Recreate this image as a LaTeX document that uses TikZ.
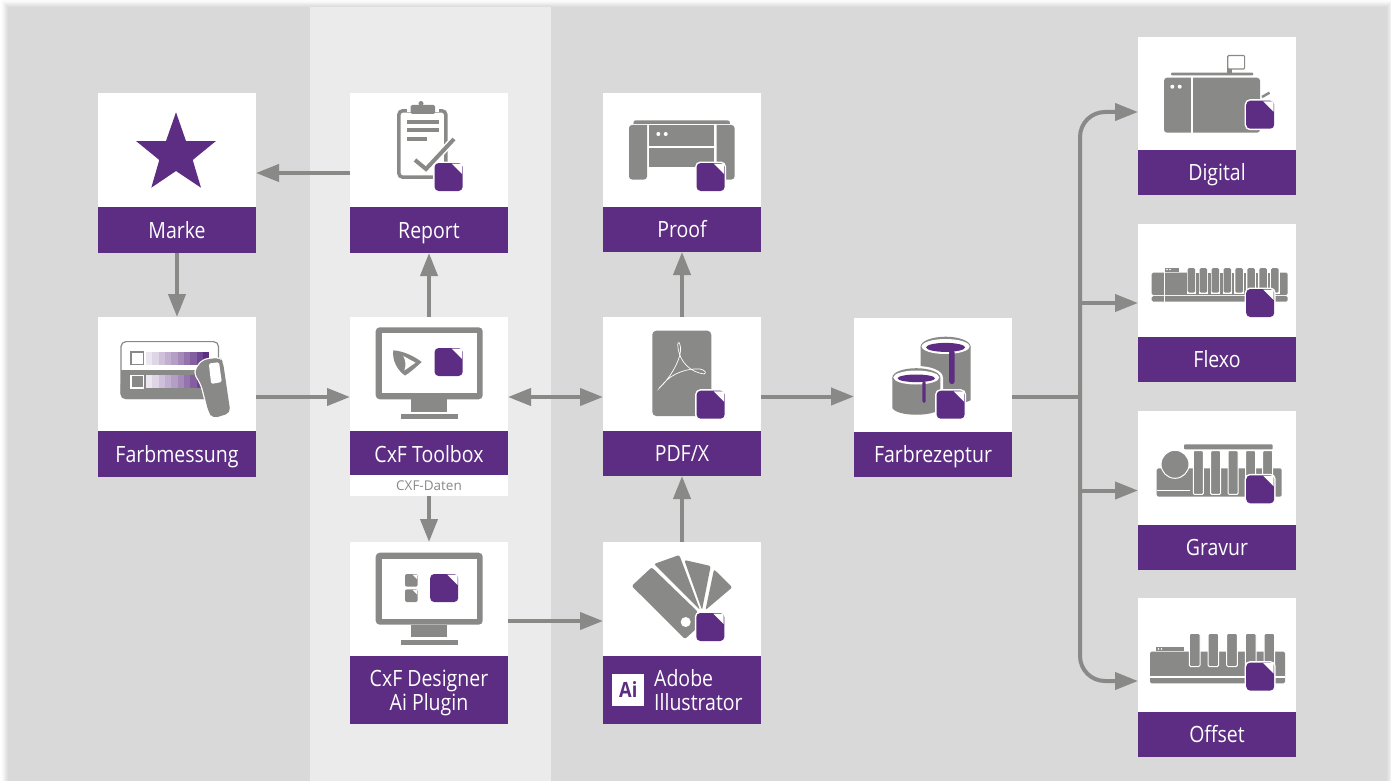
\documentclass[tikz,border=0pt]{standalone}
\usepackage{fontspec}
\usetikzlibrary{arrows.meta}
\setmainfont[FakeStretch=0.87]{Open Sans}
\newfontfamily\cxffont{Open Sans}
\definecolor{pur}{HTML}{5C2D82}
\definecolor{gr}{HTML}{898988}
\definecolor{bgd}{HTML}{D9D9D9}
\definecolor{bgl}{HTML}{EBEBEB}
\tikzset{
  card/.style={fill=white,draw=none,inner sep=0pt,outer sep=0pt,minimum width=158pt},
  bar/.style={fill=pur,text=white,inner sep=0pt,outer sep=0pt,minimum width=158pt,anchor=south,
    font=\fontsize{22.4pt}{24pt}\selectfont,text height=16pt,text depth=0pt},
  twoline/.style={text height=40pt,text depth=0pt,align=center},
  conn/.style={draw=gr,line width=4pt,-{Triangle[length=23pt,width=17pt]}},
  connb/.style={draw=gr,line width=4pt,{Triangle[length=23pt,width=17pt]}-{Triangle[length=23pt,width=17pt]}},
  badge/.pic={
    \fill[pur,rounded corners=4pt,draw=white,line width=3pt] (0,0) rectangle (28,28);
    \fill[pur,rounded corners=4pt] (0,0) rectangle (28,28);
    \fill[white] (17,0.6) -- (27.4,0.6) -- (27.4,11) -- cycle;
  },
  minibadge/.pic={
    \fill[gr,rounded corners=2pt] (0,0) rectangle (12.7,12.7);
    \fill[white] (7.5,0.5) -- (12.2,0.5) -- (12.2,5.2) -- cycle;
  },
  monitor/.pic={
    \fill[gr,rounded corners=4pt] (0,0) rectangle (107,72);
    \fill[white] (6,6) rectangle (101,66);
    \fill[gr] (35.3,72) rectangle (71.6,84.4);
    \fill[gr] (25.3,87) rectangle (82,92);
  }
}
\begin{document}
\begin{tikzpicture}[x=1pt,y=-1pt]
\useasboundingbox (0,0) rectangle (1391,781);
% background
\fill[white] (0,0) rectangle (1391,781);
\foreach \i/\c in {7/1,6/2,5/4,4/6,3/9,2/11,1/13}{
  \fill[black!\c!white] ({8-\i},{7-\i}) rectangle ({1387+\i},781);
}
\fill[bgd] (8,7) rectangle (1387,781);
\fill[bgl] (310,7) rectangle (551,781);

% cards
\node[card,minimum height=160pt] (marke) at (177,173) {};
\node[bar,minimum height=46pt] (markeL) at (marke.south) {Marke};
\node[card,minimum height=160pt] (report) at (429,173) {};
\node[bar,minimum height=46pt] (reportL) at (report.south) {Report};
\node[card,minimum height=159pt] (proof) at (682,172.5) {};
\node[bar,minimum height=45pt] (proofL) at (proof.south) {Proof};
\node[card,minimum height=160pt] (farb) at (177,397) {};
\node[bar,minimum height=46pt] (farbL) at (farb.south) {Farbmessung};
\node[card,minimum height=160pt] (tool) at (429,397) {};
\node[bar,minimum height=46pt] (toolL) at (tool.south) {CxF Toolbox};
\node[card,minimum height=21pt,text=gr,font=\cxffont\fontsize{13.5pt}{14pt}\selectfont] (cxf) at (429,485.5) {CXF-Daten};
\node[card,minimum height=159pt] (pdf) at (682,396.5) {};
\node[bar,minimum height=45pt] (pdfL) at (pdf.south) {PDF/X};
\node[card,minimum height=159pt] (rez) at (933,397.5) {};
\node[bar,minimum height=45pt] (rezL) at (rez.south) {Farbrezeptur};
\node[card,minimum height=182pt] (des) at (429,633) {};
\node[bar,minimum height=68pt,twoline] (desL) at (des.south) {CxF Designer\\Ai Plugin};
\node[card,minimum height=182pt] (ado) at (682,633) {};
\node[bar,minimum height=68pt] (adoL) at (ado.south) {};
\node[inner sep=0pt,anchor=base west,text=white,font=\fontsize{22.4pt}{25pt}\selectfont] (adoT1) at (654,686) {Adobe};
\node[inner sep=0pt,anchor=base west,text=white,font=\fontsize{22.4pt}{25pt}\selectfont] (adoT2) at (654,710.7) {Illustrator};
\node[fill=white,inner sep=0pt,outer sep=0pt,minimum width=32pt,minimum height=32pt,text=pur,font=\bfseries\fontsize{21pt}{22pt}\selectfont] (aibox) at (628.3,689.7) {Ai};
\node[card,minimum height=158pt] (dig) at (1217,116) {};
\node[bar,minimum height=45pt] (digL) at (dig.south) {Digital};
\node[card,minimum height=158pt] (fle) at (1217,303) {};
\node[bar,minimum height=45pt] (fleL) at (fle.south) {Flexo};
\node[card,minimum height=159pt] (gra) at (1217,490.5) {};
\node[bar,minimum height=45pt] (graL) at (gra.south) {Gravur};
\node[card,minimum height=159pt] (off) at (1217,677.5) {};
\node[bar,minimum height=45pt] (offL) at (off.south) {Offset};

% connectors
\coordinate (bus) at (1080,397);
\draw[conn] (report.west) -- (marke.east);
\draw[conn] (marke.south) -- (farb.north);
\draw[conn] (farb.east) -- (tool.west);
\draw[conn] (tool.north) -- (report.south);
\draw[connb] (tool.east) -- (tool.east -| pdf.west);
\draw[conn] (pdf.north) -- (proof.south);
\draw[conn] (pdf.east) -- (pdf.east -| rez.west);
\draw[conn] (cxf.south) -- (des.north);
\draw[conn] (ado.north) -- (pdf.south);
\draw[conn] ([yshift=12pt]des.east) -- ([yshift=12pt]ado.west);
\draw[gr,line width=4pt] (rez.east |- bus) -- (bus);
\draw[conn,rounded corners=25pt] (bus) |- ([yshift=4pt]dig.west);
\draw[conn] (bus |- fle.west) -- (fle.west);
\draw[conn] (bus |- gra.west) -- (gra.west);
\draw[conn,rounded corners=25pt] (bus) |- ([yshift=-3.5pt]off.west);

% star
\fill[pur] (176,112.3) -- (186,141) -- (216,141) -- (192.7,160) -- (201,187.7) -- (176,171) -- (151.3,187.7) -- (159.3,160) -- (136,141) -- (166,141) -- cycle;

% clipboard
\draw[gr,line width=3.5pt,rounded corners=4pt] (445.9,165) -- (445.9,110.8) -- (398.8,110.8) -- (398.8,177.2) -- (445.9,177.2);
\fill[white] (407,106) rectangle (439,112);
\fill[gr,rounded corners=1.5pt] (410.7,105) rectangle (435,114);
\fill[gr] (421,103.5) circle (2.5pt);
\fill[gr] (407,120) rectangle (439,124);
\fill[gr] (407,128) rectangle (439,132);
\fill[gr] (407,137) rectangle (427,141);
\draw[white,line width=7pt] (415,160) -- (426,169) -- (454,139);
\draw[gr,line width=4pt] (415,160) -- (426,169) -- (454,139);
\pic at (434.6,163) {badge};

% printer
\fill[gr] (633.3,124) .. controls (633.3,121) and (634,120.3) .. (636,120.3) -- (727,120.3) .. controls (729.5,120.3) and (730,121) .. (730,124) -- cycle;
\fill[gr,rounded corners=3pt] (647,125) -- (629,125) -- (629,179.5) -- (647,179.5) [sharp corners] -- cycle;
\fill[gr,rounded corners=3pt] (716.7,125) -- (734.5,125) -- (734.5,179.5) -- (716.7,179.5) [sharp corners] -- cycle;
\fill[gr] (649,125) rectangle (714.3,145.7);
\fill[gr] (649,148.3) rectangle (714.3,166.7);
\fill[white] (658.3,134) circle (2pt);
\fill[white] (665.7,134) circle (2pt);
\pic at (696.6,163) {badge};

% colour measurement
\draw[gr,line width=1.2pt,fill=white,rounded corners=5pt] (121,341.6) rectangle (218.5,398.6);
\fill[gr,rounded corners=5pt] (120.5,380) rectangle (219,399);
\fill[gr] (120.5,370) rectangle (219,390);
\draw[gr,line width=1.2pt,fill=white] (131,352) rectangle (143.2,364.8);
\draw[white,line width=1.2pt,fill=gr] (131,375.6) rectangle (143.2,388);
\foreach \i/\c in {0/12,1/20,2/30,3/38,4/46,5/56,6/66,7/76,8/88,9/100}{
  \fill[pur!\c!white] ({146+6.33*\i},351.7) rectangle ({146+6.33*(\i+1)},365);
  \fill[pur!\c!white] ({146+6.33*\i},375) rectangle ({146+6.33*(\i+1)},388.3);
}
\draw[white,line width=2.5pt,fill=gr,rounded corners=5pt] (202.7,360) -- (220,357.5) -- (223,362) -- (230.5,413) -- (212.7,418.5) -- (208.5,412) -- (201.7,385) -- (194,371.7) -- cycle;
\fill[gr,rounded corners=5pt] (202.7,360) -- (220,357.5) -- (223,362) -- (230.5,413) -- (212.7,418.5) -- (208.5,412) -- (201.7,385) -- (194,371.7) -- cycle;
\fill[white,rounded corners=1.5pt] (208.8,363.5) -- (219,362.2) -- (221.8,382) -- (211.2,384) -- cycle;

% toolbox monitor
\pic at (375.7,327.3) {monitor};
\fill[gr] (393.3,350.3) .. controls (403,351) and (414,356) .. (421.7,362) .. controls (416,367) and (411,372) .. (405,375.5) .. controls (397,370) and (392,360) .. (393.3,350.3) -- cycle;
\fill[white] (403.3,356) -- (415.5,362.7) -- (404.3,370.5) .. controls (406,366) and (406,361) .. (403.3,356) -- cycle;
\pic at (434.6,348) {badge};

% pdf
\fill[gr,rounded corners=4pt] (652.3,330.7) rectangle (711.3,416);
\draw[white,line width=0.7pt] (660,387) .. controls (666,383) and (684,358) .. (680,345) .. controls (679,340) and (677,343) .. (678,348) .. controls (680,362) and (690,372) .. (704,374) .. controls (707,373) and (705,370) .. (700,369) .. controls (688,368) and (672,373) .. (663,384) .. controls (658,390) and (659,388) .. (660,387);
\pic at (696.6,390.7) {badge};

% cans
\fill[gr] (920.5,346.7) -- (920.5,400) .. controls (925,405) and (966,405) .. (970.7,400) -- (970.7,346.7) -- cycle;
\fill[gr] (945.6,346.7) ellipse (25pt and 10pt);
\fill[white] (945.6,346.5) ellipse (24pt and 7.5pt);
\fill[pur] (945.6,347.4) ellipse (19.5pt and 4.5pt);
\fill[pur,rounded corners=2.4pt] (949.2,350) rectangle (954.6,384);
\fill[white] (890,378) -- (890,414) .. controls (895,419) and (940,419) .. (943,414) -- (943,378) .. controls (943,362) and (890,362) .. (890,378) -- cycle;
\fill[gr] (892.3,377.5) -- (892.3,408) .. controls (897,417) and (936,417) .. (940.3,408) -- (940.3,377.5) -- cycle;
\fill[gr] (916.3,377.5) ellipse (24pt and 9.3pt);
\fill[white] (916.3,377.5) ellipse (23pt and 7pt);
\fill[pur] (916.3,378.3) ellipse (18.7pt and 3.8pt);
\fill[pur,rounded corners=1.7pt] (922.3,381) rectangle (925.7,403);
\pic at (936.6,390.7) {badge};

% designer monitor
\pic at (375.7,552.7) {monitor};
\pic at (405,574) {minibadge};
\pic at (405,589.3) {minibadge};
\pic at (430.2,574) {badge};

% fan
\fill[gr,rounded corners=2pt] (651.7,567.3) -- (631.7,586) -- (685,639) -- (696,629) -- (698,612) -- cycle;
\fill[white] (685.7,622) circle (5pt);
\fill[gr,rounded corners=2pt] (654,564) -- (679.3,555) -- (700,610) -- cycle;
\fill[gr,rounded corners=2pt] (684.3,560) -- (710.7,566) -- (702,610) -- cycle;
\fill[gr,rounded corners=2pt] (714,569.3) -- (732.3,587.3) -- (705.5,610) -- cycle;
\pic at (696.3,613) {badge};

% digital press
\fill[gr,rounded corners=1pt] (1171,72.7) rectangle (1253.3,75.3);
\fill[gr] (1227.3,68) rectangle (1232,72.7);
\draw[gr,line width=1.2pt,fill=white,rounded corners=1pt] (1227.8,55.5) rectangle (1244.6,69);
\fill[gr,rounded corners=3pt] (1164,77.7) rectangle (1260,132.7);
\fill[white] (1191,77) rectangle (1192.7,133);
\fill[white] (1172.3,86.7) circle (2pt);
\fill[white] (1179.7,86.7) circle (2pt);
\draw[gr,line width=2.5pt] (1262,97) -- (1269.5,92.7);
\pic at (1246.2,100.7) {badge};

% flexo press
\fill[gr,rounded corners=1.5pt] (1151.7,272.7) rectangle (1287.7,295);
\fill[gr,rounded corners=1.5pt] (1151.7,296.2) rectangle (1287.7,301.7);
\fill[white] (1164,272) rectangle (1164.8,302);
\fill[gr] (1165,268) rectangle (1179.3,272);
\fill[white] (1167,269.5) circle (0.8pt) (1170,269.5) circle (0.8pt);
\fill[white] (1187,270) rectangle (1280,273);
\foreach \i in {0,...,7}{
  \fill[white] ({1186.7+11.93*\i},267) rectangle ({1196.2+11.93*\i},294);
  \fill[gr,rounded corners=1.5pt] ({1187.7+11.93*\i},268) rectangle ({1195.2+11.93*\i},292.7);
}
\pic at (1246.2,289) {badge};

% gravure press
\fill[gr,rounded corners=1pt] (1184,444.3) rectangle (1272.7,449.3);
\fill[gr,rounded corners=1.5pt] (1156.7,468.3) rectangle (1281.7,496.7);
\fill[white] (1156.7,490) rectangle (1190,491);
\draw[white,line width=1pt,fill=gr] (1175,464.3) circle (14pt);
\foreach \xx in {1193.3,1210.6,1228,1245.5,1262.7}{
  \draw[white,line width=1pt,fill=gr,rounded corners=1pt] (\xx,450.7) rectangle ({\xx+10},494.3);
}
\fill[white] (1190,449.8) rectangle (1275,450.7);
\pic at (1246.2,475.3) {badge};

% offset press
\fill[gr,rounded corners=1.5pt] (1150,651.7) rectangle (1285,683.3);
\fill[white] (1150,676.4) rectangle (1285,677.6);
\fill[gr] (1156,647) rectangle (1184.3,651.3);
\fill[white] (1158.5,649) circle (0.8pt) (1161.5,649) circle (0.8pt);
\foreach \xx in {1189.3,1208,1226.7,1245.3,1264}{
  \draw[white,line width=1pt,fill=gr,rounded corners=1.5pt] (\xx,633.3) rectangle ({\xx+10.7},666.7);
}
\pic at (1246.2,662.6) {badge};
\end{tikzpicture}
\end{document}
